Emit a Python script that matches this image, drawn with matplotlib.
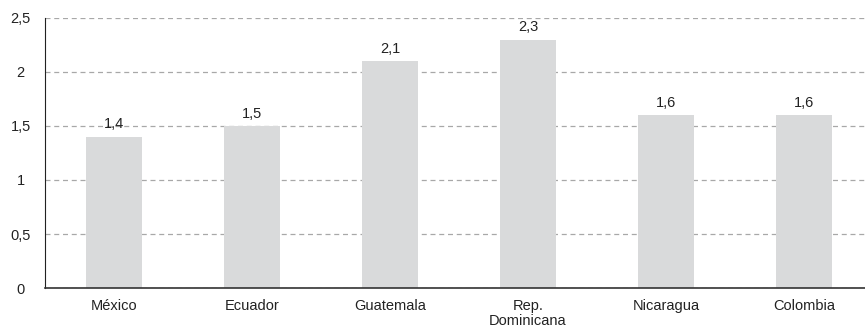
import matplotlib.pyplot as plt

plt.rcParams['font.family'] = ['Liberation Sans', 'DejaVu Sans']

countries = ['México', 'Ecuador', 'Guatemala', 'Rep.\nDominicana', 'Nicaragua', 'Colombia']
values = [1.4, 1.5, 2.1, 2.3, 1.6, 1.6]
yticks = [0, 0.5, 1, 1.5, 2, 2.5]

fig = plt.figure(figsize=(8.65, 3.33), dpi=100)
ax = fig.add_axes([45 / 865, (333 - 288) / 333, 828 / 865, 270 / 333])

x = range(len(countries))
ax.bar(x, values, width=0.4, color='#d9dadb', zorder=2)
for xi, v in zip(x, values):
    ax.text(xi, v + 0.05, f'{v:.1f}'.replace('.', ','), ha='center', va='bottom',
            fontsize=10.5, color='#222222')

ax.set_xlim(-0.5, len(countries) - 0.5)
ax.set_ylim(0, 2.5)
ax.set_yticks(yticks)
ax.set_yticklabels([f'{t:g}'.replace('.', ',') for t in yticks])
ax.set_xticks(list(x))
ax.set_xticklabels(countries)
ax.tick_params(length=0, labelsize=10.5, colors='#222222')
ax.tick_params(axis='y', pad=17.5)
ax.tick_params(axis='x', pad=8)
for lab in ax.get_yticklabels():
    lab.set_horizontalalignment('center')
for lab in ax.get_xticklabels():
    lab.set_linespacing(1.1)

ax.yaxis.grid(True, linestyle=(0, (4, 3)), color='#a8a8a8', linewidth=0.9, zorder=1)
ax.spines['top'].set_visible(False)
ax.spines['right'].set_visible(False)
ax.spines['left'].set_color('#222222')
ax.spines['bottom'].set_color('#333333')
ax.spines['bottom'].set_linewidth(1.2)

fig.savefig('out.png', dpi=100)
